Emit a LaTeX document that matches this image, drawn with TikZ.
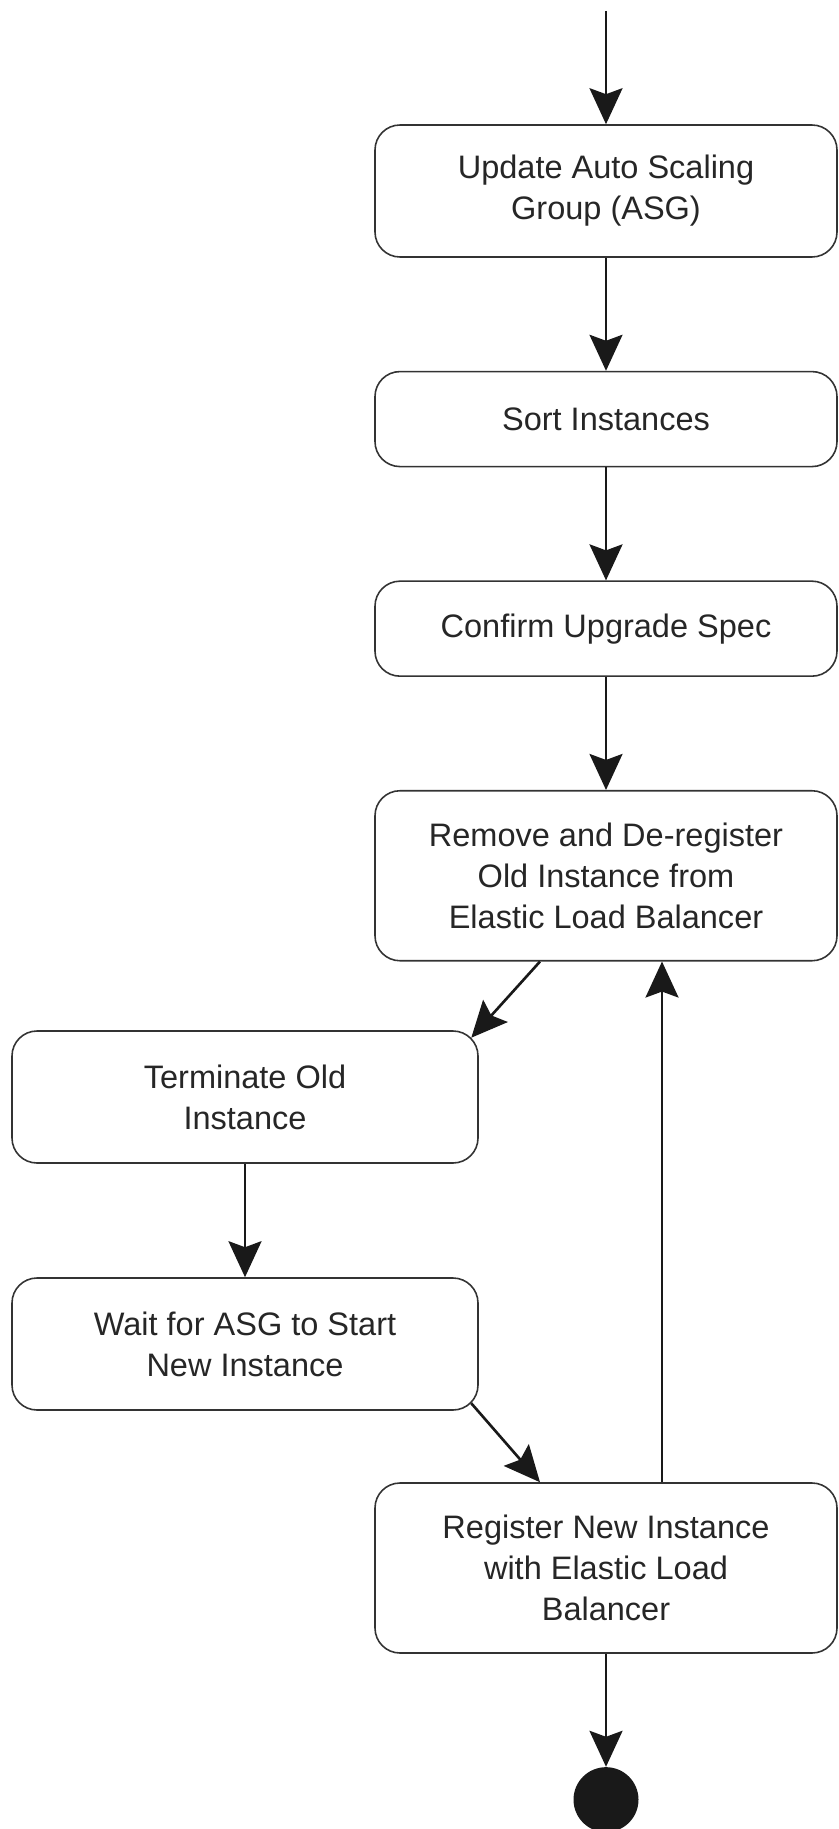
\documentclass[tikz,border=0pt]{standalone}
\usepackage{fontspec}
\setmainfont{Liberation Sans}
\usepackage{tikz}
\usetikzlibrary{arrows.meta, positioning}
\tikzset{
    activity/.style={rectangle, draw=black!80, line width=0.9pt, rounded corners=0.5cm, align=center, text=black!85, font=\fontsize{18.5}{23.3}\selectfont, inner sep=0pt},
    wide/.style={activity, minimum width=9.24cm},
    narrow/.style={activity, minimum width=9.32cm},
    final/.style={circle, fill=black!90, minimum size=1.3cm, inner sep=0pt},
    arrow/.style={line width=1.5pt, draw=black!90, -{Stealth[length=0.72cm, width=0.66cm, inset=0.12cm]}}
}

\begin{document}
\begin{tikzpicture}[node distance=2.26cm]
        \useasboundingbox (0, 0) rectangle (16.76, -36.58);

        \coordinate (Start_point) at (12.12, -0.22);
        \node (Update_box) [wide, minimum height=2.64cm] at (12.12, -3.82) {Update Auto Scaling\\Group (ASG)};
        \node (Sort_box) [wide, minimum height=1.9cm, below=of Update_box] {Sort Instances};
        \node (Confirm_box) [wide, minimum height=1.9cm, below=of Sort_box] {Confirm Upgrade Spec};
        \node (Remove_box) [wide, minimum height=3.4cm, below=of Confirm_box] {Remove and De-register\\Old Instance from\\Elastic Load Balancer};

        \node (Terminate_box) [narrow, minimum height=2.64cm] at (4.9, -21.94) {Terminate Old\\Instance};
        \node (Wait_box) [narrow, minimum height=2.64cm] at (4.9, -26.88) {Wait for ASG to Start\\New Instance};

        \node (Register_box) [wide, minimum height=3.4cm] at (12.12, -31.36) {Register New Instance\\with Elastic Load\\Balancer};
        \node (End_dot) [final, below=of Register_box] {};

        % Flow
        \draw[arrow] (Start_point) -- (Update_box);
        \draw[arrow] (Update_box) -- (Sort_box);
        \draw[arrow] (Sort_box) -- (Confirm_box);
        \draw[arrow] (Confirm_box) -- (Remove_box);
        \draw[arrow] ([xshift=-1.32cm]Remove_box.south) -- ([shift={(-0.15,-0.15)}]Terminate_box.north east);
        \draw[arrow] (Terminate_box) -- (Wait_box);
        \draw[arrow] ([shift={(-0.15,0.15)}]Wait_box.south east) -- ([xshift=-1.32cm]Register_box.north);
        \draw[arrow] (Register_box) -- (End_dot);

        % Loop back
        \draw[arrow] ([xshift=1.12cm]Register_box.north) -- ([xshift=1.12cm]Remove_box.south);

    \end{tikzpicture}
\end{document}
